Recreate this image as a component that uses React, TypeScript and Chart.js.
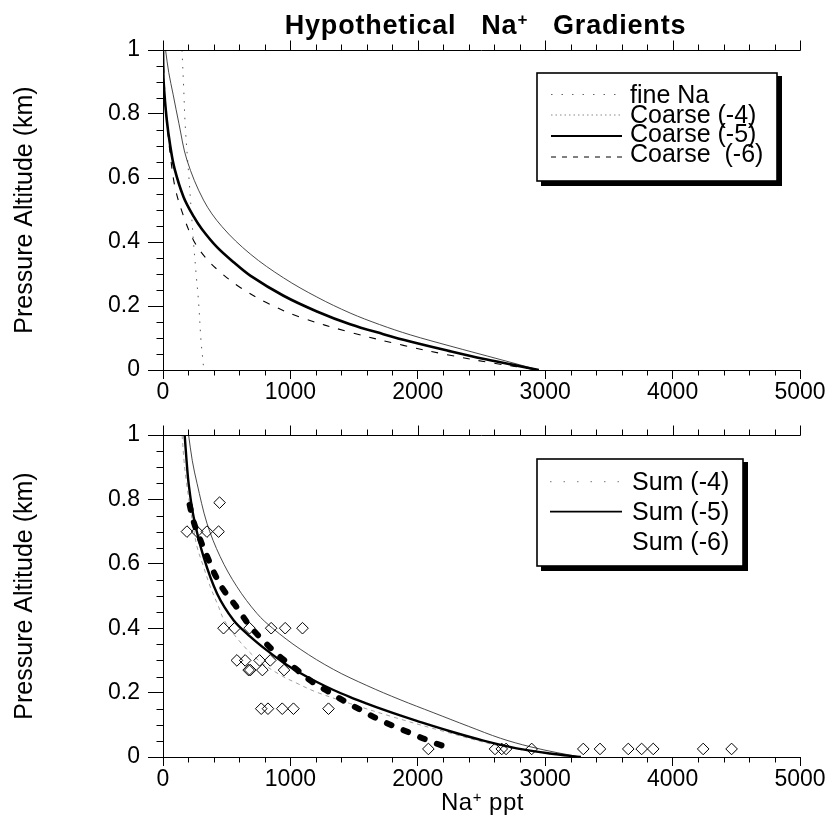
import React, { useEffect, useRef } from "react";
import { Chart, registerables } from "chart.js";

Chart.register(...registerables);

const FONT = '"Liberation Sans", Arial, Helvetica, sans-serif';

// ---------- Text ----------
const titleParts = ["Hypothetical   Na", "+", "   Gradients"];
const xAxisTitleParts = ["Na", "+", " ppt"];
const yAxisTitle = "Pressure Altitude (km)";
const topLegendLabels = ["fine Na", "Coarse (-4)", "Coarse (-5)", "Coarse  (-6)"];
const bottomLegendLabels = ["Sum (-4)", "Sum (-5)", "Sum (-6)"];

// ---------- Axes ----------
const xMin = 0;
const xMax = 5000;
const xMajorStep = 1000;
const xMinorStep = 200;
const yMin = 0;
const yMax = 1;
const yMajorStep = 0.2;

// ---------- Top panel: Hypothetical gradients ----------
const fineNaX = [149, 162, 175, 201, 227, 240, 260, 280, 298, 313, 320];
const fineNaY = [1, 0.885, 0.76, 0.615, 0.469, 0.396, 0.3, 0.208, 0.093, 0.031, 0];

const coarse4X = [20, 45, 80, 125, 188, 318, 463, 685, 946, 1208, 1469, 1700, 1940, 2253, 2645, 2950];
const coarse4Y = [1, 0.93, 0.86, 0.77, 0.656, 0.531, 0.448, 0.3625, 0.288, 0.228, 0.178, 0.142, 0.11, 0.075, 0.033, 0];

const coarse5X = [0, 5, 30, 57, 90, 162, 240, 306, 424, 560, 685, 946, 1208, 1469, 1730, 1940, 2250, 2512, 2750, 2950];
const coarse5Y = [1, 0.9, 0.78, 0.7, 0.63, 0.54, 0.48, 0.44, 0.384, 0.335, 0.295, 0.232, 0.183, 0.143, 0.112, 0.089, 0.059, 0.035, 0.016, 0];

const coarse6X = [0, 10, 25, 55, 95, 162, 240, 332, 449, 606, 815, 1077, 1469, 1887, 2253, 2600, 2950];
const coarse6Y = [1, 0.9, 0.8, 0.68, 0.57, 0.48, 0.405, 0.352, 0.306, 0.258, 0.21, 0.165, 0.118, 0.077, 0.046, 0.021, 0];

// ---------- Bottom panel: sums, profile and observations ----------
const sum4X = [201, 230, 267, 345, 449, 580, 737, 860, 1077, 1338, 1600, 1861, 2120, 2400, 2650, 2881, 3100, 3280];
const sum4Y = [1, 0.92, 0.85, 0.726, 0.622, 0.529, 0.446, 0.4, 0.335, 0.272, 0.222, 0.178, 0.138, 0.095, 0.058, 0.032, 0.013, 0];

const sum5X = [170, 185, 201, 240, 318, 424, 554, 685, 816, 946, 1077, 1208, 1338, 1469, 1600, 1730, 1861, 1992, 2253, 2515, 2776, 3038, 3280];
const sum5Y = [1, 0.92, 0.85, 0.746, 0.622, 0.508, 0.425, 0.374, 0.331, 0.293, 0.261, 0.233, 0.208, 0.186, 0.166, 0.147, 0.129, 0.112, 0.08, 0.051, 0.027, 0.011, 0];

const sum6X = [150, 165, 185, 215, 240, 267, 318, 371, 436, 480, 600, 750, 920, 1051, 1208, 1469, 1800, 2200, 2700, 3280];
const sum6Y = [1, 0.92, 0.85, 0.77, 0.71, 0.653, 0.591, 0.529, 0.467, 0.425, 0.36, 0.3, 0.255, 0.229, 0.201, 0.166, 0.125, 0.08, 0.03, 0];

const profileX = [209, 240, 293, 353, 410, 475, 575, 672, 780, 920, 1038, 1168, 1299, 1430, 1561, 1691, 1822, 1945, 2071, 2214, 2253];
const profileY = [0.783, 0.731, 0.674, 0.617, 0.565, 0.519, 0.467, 0.412, 0.364, 0.311, 0.275, 0.234, 0.203, 0.172, 0.144, 0.117, 0.094, 0.074, 0.053, 0.032, 0.027];

const obsX = [444, 188, 267, 345, 436, 475, 562, 679, 849, 959, 1095, 580, 645, 758, 842, 672, 685, 780, 950, 771, 824, 936, 1024, 1299, 2083, 2606, 2659, 2693, 2894, 3299, 3430, 3652, 3757, 3848, 4240, 4463];
const obsY = [0.79, 0.7, 0.7, 0.7, 0.7, 0.4, 0.4, 0.4, 0.4, 0.4, 0.4, 0.3, 0.3, 0.3, 0.3, 0.27, 0.27, 0.27, 0.27, 0.15, 0.15, 0.15, 0.15, 0.15, 0.025, 0.025, 0.025, 0.025, 0.025, 0.025, 0.025, 0.025, 0.025, 0.025, 0.025, 0.025];

const zip = (xs: number[], ys: number[]) => xs.map((x, i) => ({ x, y: ys[i] }));

function drawRich(ctx: any, parts: string[], cx: number, baseline: number, size: number, bold: boolean, spacing: number) {
  const w = bold ? "bold " : "";
  const fonts = parts.map((_, i) => (i % 2 === 1 ? `${w}${Math.round(size * 0.62)}px ${FONT}` : `${w}${size}px ${FONT}`));
  ctx.save();
  ctx.letterSpacing = `${spacing}px`;
  ctx.textBaseline = "alphabetic";
  ctx.textAlign = "left";
  ctx.fillStyle = "#000";
  const widths = parts.map((p, i) => {
    ctx.font = fonts[i];
    return ctx.measureText(p).width;
  });
  const total = widths.reduce((a, b) => a + b, 0);
  let x = cx - total / 2;
  parts.forEach((p, i) => {
    ctx.font = fonts[i];
    ctx.fillText(p, x, i % 2 === 1 ? baseline - size * 0.33 : baseline);
    x += widths[i];
  });
  ctx.restore();
}

const axesDecor = {
  id: "axesDecor",
  afterDraw(chart: any) {
    const { ctx, chartArea: a } = chart;
    const xs = chart.scales.x;
    const ys = chart.scales.y;
    ctx.save();
    ctx.strokeStyle = "#000";
    ctx.lineWidth = 1;
    ctx.beginPath();
    const top = Math.round(a.top) + 0.5;
    const bottom = Math.round(a.bottom) + 0.5;
    const left = Math.round(a.left) + 0.5;
    ctx.moveTo(a.left, top);
    ctx.lineTo(a.right + 0.5, top);
    const nx = Math.round((xMax - xMin) / xMinorStep);
    for (let i = 0; i <= nx; i++) {
      const v = xMin + i * xMinorStep;
      const px = Math.round(xs.getPixelForValue(v)) + 0.5;
      const major = v % xMajorStep === 0;
      ctx.moveTo(px, top);
      ctx.lineTo(px, top - (major ? 10 : 6));
      if (!major) {
        ctx.moveTo(px, bottom);
        ctx.lineTo(px, bottom + 5);
      }
    }
    for (let i = 0; i <= 20; i++) {
      if (i % 4 === 0) continue;
      const v = yMin + (i * (yMax - yMin)) / 20;
      const py = Math.round(ys.getPixelForValue(v)) + 0.5;
      ctx.moveTo(left, py);
      ctx.lineTo(left - 7, py);
    }
    ctx.stroke();
    ctx.restore();
  },
};

type LegendItem = { label: string; sy: number; ty: number; color: string; width: number; dash: number[] };

function legendPlugin(box: { l: number; t: number; r: number; b: number }, x0: number, x1: number, tx: number, items: LegendItem[]) {
  return {
    id: "boxLegend",
    afterDraw(chart: any) {
      const ctx = chart.ctx;
      const { l, t, r, b } = box;
      ctx.save();
      ctx.fillStyle = "#000";
      ctx.fillRect(l + 4, t + 3, r - l + 1, b - t + 2);
      ctx.fillStyle = "#fff";
      ctx.fillRect(l, t, r - l, b - t);
      ctx.strokeStyle = "#000";
      ctx.lineWidth = 1.6;
      ctx.strokeRect(l, t, r - l, b - t);
      ctx.font = `25px ${FONT}`;
      ctx.textBaseline = "alphabetic";
      ctx.textAlign = "left";
      items.forEach((it) => {
        if (it.width > 0) {
          ctx.beginPath();
          ctx.setLineDash(it.dash);
          ctx.lineWidth = it.width;
          ctx.strokeStyle = it.color;
          ctx.moveTo(x0, it.sy);
          ctx.lineTo(x1, it.sy);
          ctx.stroke();
        }
        ctx.setLineDash([]);
        ctx.fillStyle = "#000";
        ctx.fillText(it.label, tx, it.ty);
      });
      ctx.restore();
    },
  };
}

const titlePlugin = {
  id: "titleText",
  afterDraw(chart: any) {
    const a = chart.chartArea;
    drawRich(chart.ctx, titleParts, (a.left + a.right) / 2 + 4, 34, 27, true, 0.8);
  },
};

const xTitlePlugin = {
  id: "xTitleText",
  afterDraw(chart: any) {
    const a = chart.chartArea;
    drawRich(chart.ctx, xAxisTitleParts, (a.left + a.right) / 2 + 1, 410, 24, false, 0.5);
  },
};

function makeConfig(datasets: any[], padding: any, plugins: any[]) {
  return {
    type: "scatter" as const,
    data: { datasets },
    options: {
      responsive: false,
      animation: false as const,
      events: [],
      layout: { padding },
      plugins: {
        legend: { display: false },
        title: { display: false },
        tooltip: { enabled: false },
      },
      scales: {
        x: {
          type: "linear" as const,
          min: xMin,
          max: xMax,
          afterFit: (s: any) => {
            s.height = 30;
          },
          border: { display: true, color: "#000", width: 1 },
          grid: { drawOnChartArea: false, drawTicks: true, tickLength: 9, color: "#000", lineWidth: 1 },
          ticks: {
            stepSize: xMajorStep,
            padding: 0,
            color: "#000",
            maxRotation: 0,
            autoSkip: false,
            font: { family: FONT, size: 23 },
            callback: (v: any) => String(v),
          },
        },
        y: {
          type: "linear" as const,
          min: yMin,
          max: yMax,
          afterFit: (s: any) => {
            s.width = 163;
          },
          border: { display: true, color: "#000", width: 1 },
          grid: { drawOnChartArea: false, drawTicks: true, tickLength: 15, color: "#000", lineWidth: 1 },
          ticks: {
            stepSize: yMajorStep,
            padding: 8,
            color: "#000",
            font: { family: FONT, size: 23 },
            callback: (v: any) => String(Math.round(Number(v) * 10) / 10),
          },
          title: {
            display: true,
            text: yAxisTitle,
            color: "#000",
            font: { family: FONT, size: 25 },
            padding: { top: 10, bottom: 0 },
          },
        },
      },
    },
    plugins,
  };
}

const lineBase = { showLine: true, pointRadius: 0, tension: 0.35, fill: false };

export default function App() {
  const topRef = useRef<HTMLCanvasElement>(null);
  const botRef = useRef<HTMLCanvasElement>(null);

  useEffect(() => {
    const topDatasets = [
      { ...lineBase, label: topLegendLabels[0], data: zip(fineNaX, fineNaY), borderColor: "#555", borderWidth: 1, borderDash: [1.5, 7], order: 4 },
      { ...lineBase, label: topLegendLabels[1], data: zip(coarse4X, coarse4Y), borderColor: "#333", borderWidth: 0.9, order: 3 },
      { ...lineBase, label: topLegendLabels[2], data: zip(coarse5X, coarse5Y), borderColor: "#000", borderWidth: 2.6, order: 1 },
      { ...lineBase, label: topLegendLabels[3], data: zip(coarse6X, coarse6Y), borderColor: "#000", borderWidth: 1.1, borderDash: [7, 9], order: 2 },
    ];
    const bottomDatasets = [
      {
        label: "observations",
        data: zip(obsX, obsY),
        showLine: false,
        pointStyle: "rectRot",
        pointRadius: 5.8,
        pointBorderWidth: 1,
        pointBorderColor: "#000",
        pointBackgroundColor: "rgba(255,255,255,0)",
        order: 0,
      },
      { ...lineBase, label: "profile", data: zip(profileX, profileY), borderColor: "#000", borderWidth: 6, borderDash: [5, 13], borderCapStyle: "round", order: 1 },
      { ...lineBase, label: bottomLegendLabels[1], data: zip(sum5X, sum5Y), borderColor: "#000", borderWidth: 2.4, order: 2 },
      { ...lineBase, label: bottomLegendLabels[0], data: zip(sum4X, sum4Y), borderColor: "#333", borderWidth: 0.9, order: 3 },
      { ...lineBase, label: bottomLegendLabels[2], data: zip(sum6X, sum6Y), borderColor: "#888", borderWidth: 0.8, borderDash: [4, 4], order: 4 },
    ];

    const topLegend = legendPlugin({ l: 537, t: 73, r: 777, b: 181 }, 551, 622, 630, [
      { label: topLegendLabels[0], sy: 94.5, ty: 103, color: "#666", width: 1, dash: [1.5, 9] },
      { label: topLegendLabels[1], sy: 115, ty: 122.5, color: "#888", width: 1, dash: [1.5, 3] },
      { label: topLegendLabels[2], sy: 136, ty: 142, color: "#000", width: 2, dash: [] },
      { label: topLegendLabels[3], sy: 157, ty: 161.5, color: "#000", width: 1, dash: [5, 6] },
    ]);
    const bottomLegend = legendPlugin({ l: 537, t: 59, r: 743, b: 166 }, 550, 622, 632, [
      { label: bottomLegendLabels[0], sy: 81.7, ty: 90, color: "#777", width: 1, dash: [1.5, 12] },
      { label: bottomLegendLabels[1], sy: 111.7, ty: 120, color: "#000", width: 1.8, dash: [] },
      { label: bottomLegendLabels[2], sy: 141.7, ty: 150, color: "#000", width: 0, dash: [] },
    ]);

    const c1 = new Chart(
      topRef.current as HTMLCanvasElement,
      makeConfig(topDatasets, { top: 50, right: 32, bottom: 15, left: 0 }, [axesDecor, topLegend, titlePlugin]) as any
    );
    const c2 = new Chart(
      botRef.current as HTMLCanvasElement,
      makeConfig(bottomDatasets, { top: 35, right: 32, bottom: 28, left: 0 }, [axesDecor, bottomLegend, xTitlePlugin]) as any
    );
    return () => {
      c1.destroy();
      c2.destroy();
    };
  }, []);

  return (
    <div style={{ position: "absolute", left: 0, top: 0, width: 832, height: 815, background: "#fff", overflow: "hidden" }}>
      <canvas ref={topRef} width={832} height={415} style={{ position: "absolute", left: 0, top: 0, width: 832, height: 415 }} />
      <canvas ref={botRef} width={832} height={415} style={{ position: "absolute", left: 0, top: 400, width: 832, height: 415 }} />
    </div>
  );
}
